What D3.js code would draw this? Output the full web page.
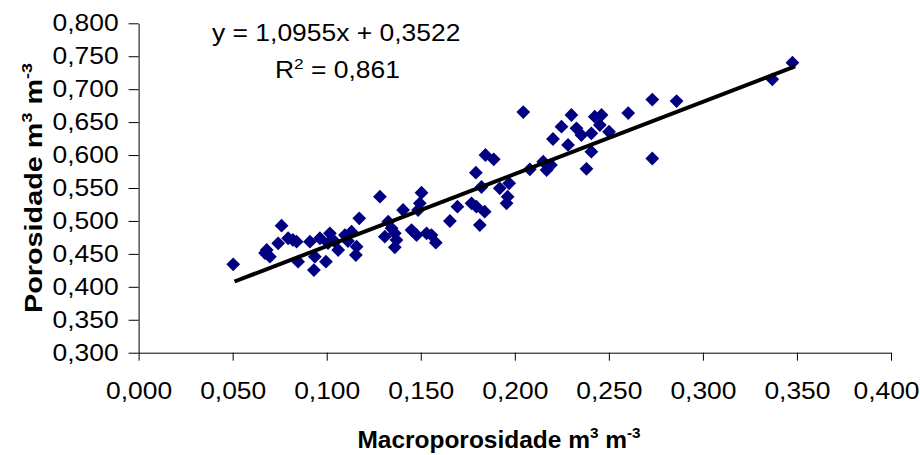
<!DOCTYPE html>
<html>
<head>
<meta charset="utf-8">
<script src="https://cdn.jsdelivr.net/npm/d3@7"></script>
<style>
  html, body { margin: 0; padding: 0; background: #fff; }
  svg text { font-family: "Liberation Sans", Arial, sans-serif; fill: #000; }
</style>
</head>
<body>
<svg id="chart" width="920" height="455"></svg>
<script>
// ---- data ----
const macroporosidade = [
  0.0503, 0.0672, 0.0681, 0.0698, 0.0742, 0.0760, 0.0795, 0.0820, 0.0840, 0.0848,
  0.0911, 0.0932, 0.0937, 0.0964, 0.0996, 0.1007, 0.1017, 0.1043, 0.1061, 0.1097,
  0.1113, 0.1132, 0.1159, 0.1155, 0.1173, 0.1283, 0.1504, 0.1495, 0.1486, 0.1406,
  0.1327, 0.1345, 0.1309, 0.1362, 0.1371, 0.1362, 0.1451, 0.1478, 0.1531, 0.1557,
  0.1580, 0.1655, 0.1695, 0.1770, 0.1796, 0.1840, 0.1814, 0.1823, 0.1920, 0.1956,
  0.1970, 0.1962, 0.1793, 0.1844, 0.1888, 0.2045, 0.2080, 0.2151, 0.2169, 0.2192,
  0.2203, 0.2248, 0.2301, 0.2283, 0.2328, 0.2354, 0.2407, 0.2407, 0.2425, 0.2461,
  0.2452, 0.2501, 0.2381, 0.2603, 0.2731, 0.2860, 0.2731, 0.3369, 0.3476
];
const porosidade = [
  0.4342, 0.4513, 0.4559, 0.4457, 0.4660, 0.4928, 0.4737, 0.4711, 0.4685, 0.4381,
  0.4685, 0.4255, 0.4457, 0.4737, 0.4381, 0.4664, 0.4812, 0.4685, 0.4559, 0.4786,
  0.4695, 0.4837, 0.4609, 0.4483, 0.5040, 0.5368, 0.5428, 0.5268, 0.5166, 0.5166,
  0.4988, 0.4888, 0.4761, 0.4812, 0.4710, 0.4600, 0.4862, 0.4786, 0.4812, 0.4786,
  0.4670, 0.4999, 0.5216, 0.5268, 0.5216, 0.5140, 0.4938, 0.5515, 0.5495, 0.5268,
  0.5571, 0.5368, 0.5732, 0.6001, 0.5936, 0.6653, 0.5784, 0.5899, 0.5773, 0.5849,
  0.6244, 0.6430, 0.6608, 0.6153, 0.6406, 0.6304, 0.6330, 0.6051, 0.6582, 0.6608,
  0.6456, 0.6354, 0.5791, 0.6638, 0.6843, 0.6820, 0.5948, 0.7150, 0.7402
];
const xTicks = [0, 0.05, 0.10, 0.15, 0.20, 0.25, 0.30, 0.35, 0.40];
const yTicks = [0.30, 0.35, 0.40, 0.45, 0.50, 0.55, 0.60, 0.65, 0.70, 0.75, 0.80];
const slope = 1.0955, intercept = 0.3522, r2 = "0,861";
const trendRange = [0.051, 0.349];

// ---- layout ----
const SX = 1.1; // horizontal stretch of the reference tick text
const FS = 24;
const svg = d3.select("#chart");
const x = d3.scaleLinear().domain([0, 0.4]).range([138.6, 891]);
const y = d3.scaleLinear().domain([0.3, 0.8]).range([352.7, 23.3]);
const fmt = v => d3.format(".3f")(v).replace(".", ",");

// axes
const xAxis = d3.axisBottom(x).tickValues(xTicks).tickFormat(fmt).tickSize(8).tickPadding(21).tickSizeOuter(0);
const yAxis = d3.axisLeft(y).tickValues(yTicks).tickFormat(fmt).tickSize(10).tickPadding(10).tickSizeOuter(0);

const gx = svg.append("g").attr("transform", `translate(0,${y(0.3)})`).call(xAxis);
const gy = svg.append("g").attr("transform", `translate(${x(0)},0)`).call(yAxis);
[gx, gy].forEach(g => {
  g.select(".domain").attr("stroke", "#000").attr("stroke-width", 1);
  g.selectAll(".tick line").attr("stroke", "#000").attr("stroke-width", 1);
  g.selectAll(".tick text").attr("font-size", FS)
    .style("font-family", '"Liberation Sans", Arial, sans-serif').attr("fill", "#000");
});
gx.selectAll(".tick text").each(function(d) {
  const t = d3.select(this);
  // keep the last label inside the picture
  const shift = d === 0.4 ? -5 : 0;
  t.attr("x", shift / SX).attr("transform", `scale(${SX},1)`);
});
gy.selectAll(".tick text").each(function() {
  const t = d3.select(this);
  const xx = +t.attr("x");
  t.attr("x", xx / SX).attr("transform", `scale(${SX},1)`);
});

// points
const pts = macroporosidade.map((m, i) => [m, porosidade[i]]);
const diamond = d3.symbol().type(d3.symbolSquare).size(95);
svg.append("g").selectAll("path").data(pts).join("path")
  .attr("d", diamond)
  .attr("fill", "#000080")
  .attr("transform", d => `translate(${x(d[0])},${y(d[1])}) rotate(45)`);

// trend line
svg.append("line")
  .attr("x1", x(trendRange[0])).attr("y1", y(slope * trendRange[0] + intercept))
  .attr("x2", x(trendRange[1])).attr("y2", y(slope * trendRange[1] + intercept))
  .attr("stroke", "#000").attr("stroke-width", 4);

// equation
svg.append("text").attr("transform", `translate(212,41) scale(1.15,1)`).attr("font-size", 23)
  .text("y = 1,0955x + 0,3522");
const r = svg.append("text").attr("transform", `translate(275,78) scale(1.15,1)`).attr("font-size", 23);
r.append("tspan").text("R");
r.append("tspan").attr("dy", -9).attr("font-size", 15).text("2");
r.append("tspan").attr("dy", 9).text(" = " + r2);

// axis titles
const xt = svg.append("text").attr("transform", `translate(499,448) scale(1.02,1)`)
  .attr("text-anchor", "middle").attr("font-size", FS).attr("font-weight", "bold");
xt.append("tspan").text("Macroporosidade m");
xt.append("tspan").attr("dy", -10).attr("font-size", 15).text("3");
xt.append("tspan").attr("dy", 10).text(" m");
xt.append("tspan").attr("dy", -10).attr("font-size", 15).text("-3");

const yt = svg.append("text").attr("transform", `translate(42,188) rotate(-90) scale(1.2,1)`)
  .attr("text-anchor", "middle").attr("font-size", FS).attr("font-weight", "bold");
yt.append("tspan").text("Porosidade m");
yt.append("tspan").attr("dy", -10).attr("font-size", 15).text("3");
yt.append("tspan").attr("dy", 10).text(" m");
yt.append("tspan").attr("dy", -10).attr("font-size", 15).text("-3");
</script>
</body>
</html>
